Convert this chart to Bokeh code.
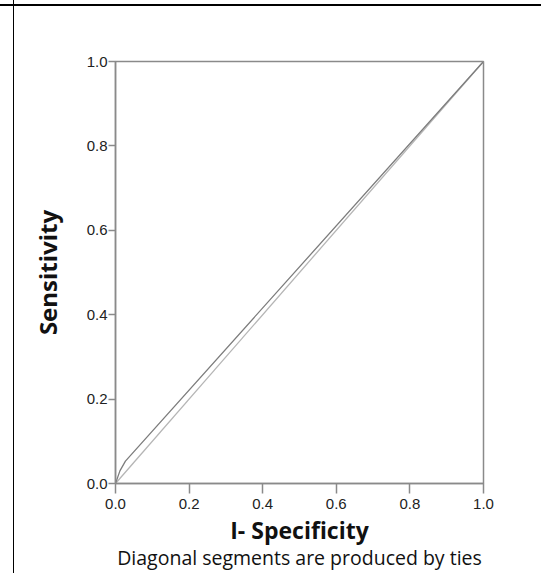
from bokeh.plotting import figure
from bokeh.models import Range1d, FixedTicker, Title, CustomJSTickFormatter
from bokeh.embed import file_html
from bokeh.resources import INLINE

# ROC curve points (1 - specificity, sensitivity)
roc_fpr = [0.0, 0.012, 0.027, 1.0]
roc_tpr = [0.0, 0.030, 0.053, 1.0]
# reference diagonal
diag_x = [0.0, 1.0]
diag_y = [0.0, 1.0]
tick_values = [0.0, 0.2, 0.4, 0.6, 0.8, 1.0]

bg = ("linear-gradient(to right, transparent 13px, #000 13px, #000 14.5px, transparent 14.5px), "
      "linear-gradient(to bottom, #fff 4px, #000 4px, #000 6px, #fff 6px)")

p = figure(width=541, height=573, output_backend="svg", toolbar_location=None,
           x_range=Range1d(0, 1), y_range=Range1d(0, 1),
           min_border_left=115, min_border_top=61, min_border_right=58,
           min_border_bottom=90, border_fill_color=None,
           styles={"background": bg})

p.xgrid.visible = False
p.ygrid.visible = False
p.background_fill_color = "white"
p.outline_line_color = "#8a8a8a"
p.outline_line_width = 1.5

p.line(diag_x, diag_y, line_color="#b5b5b5", line_width=1.3)
p.line(roc_fpr, roc_tpr, line_color="#7d7d7d", line_width=1.3)

fmt = CustomJSTickFormatter(code="return tick.toFixed(1);")
for ax in (p.xaxis[0], p.yaxis[0]):
    ax.ticker = FixedTicker(ticks=tick_values)
    ax.formatter = fmt
    ax.minor_tick_line_color = None
    ax.axis_line_color = "#8a8a8a"
    ax.axis_line_width = 1.5
    ax.major_tick_line_color = "#8a8a8a"
    ax.major_tick_line_width = 1.5
    ax.major_tick_in = 0
    ax.major_label_text_font = "Liberation Sans"
    ax.major_label_text_font_size = "15px"
    ax.major_label_text_color = "#222222"
    ax.axis_label_text_font = "Open Sans"
    ax.axis_label_text_font_style = "bold"
    ax.axis_label_text_font_size = "23px"
    ax.axis_label_text_color = "#111111"

p.xaxis[0].major_tick_out = 10
p.xaxis[0].major_label_standoff = 5
p.xaxis[0].axis_label = "I- Specificity"
p.xaxis[0].axis_label_standoff = 2

p.yaxis[0].major_tick_out = 7
p.yaxis[0].major_label_standoff = 1
p.yaxis[0].axis_label = "Sensitivity"
p.yaxis[0].axis_label_standoff = 20
p.yaxis[0].axis_label_text_font_size = "24px"

note = Title(text="Diagonal segments are produced by ties", align="center",
             text_font="Open Sans", text_font_style="normal",
             text_font_size="19.5px", text_color="#111111", standoff=-13)
p.add_layout(note, "below")

open("out.html", "w").write(file_html(p, INLINE))
